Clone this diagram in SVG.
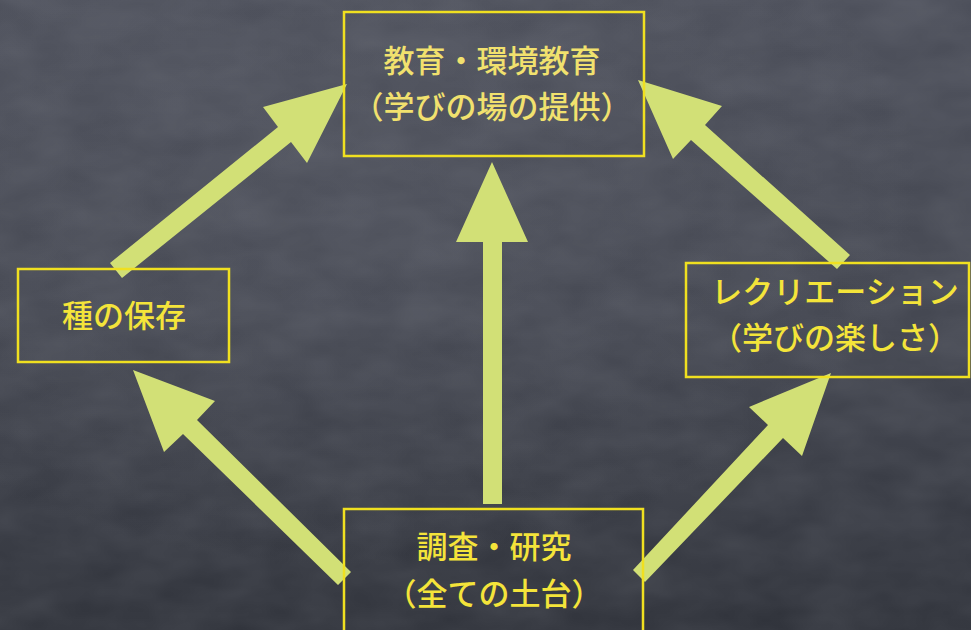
<svg xmlns="http://www.w3.org/2000/svg" width="971" height="630" viewBox="0 0 971 630">
  <defs>
    <linearGradient id="bg" x1="0" y1="0" x2="0" y2="1">
      <stop offset="0" stop-color="#4c4f5a"/>
      <stop offset="0.5" stop-color="#444751"/>
      <stop offset="1" stop-color="#30333b"/>
    </linearGradient>
    <radialGradient id="glow" cx="0.35" cy="0.3" r="0.6">
      <stop offset="0" stop-color="#5a5d68" stop-opacity="0.35"/>
      <stop offset="1" stop-color="#5a5d68" stop-opacity="0"/>
    </radialGradient>
    <filter id="chalk" x="0" y="0" width="100%" height="100%">
      <feTurbulence type="fractalNoise" baseFrequency="0.015 0.03" numOctaves="3" seed="7" result="n"/>
      <feColorMatrix in="n" type="matrix" values="0 0 0 0 0.55  0 0 0 0 0.57  0 0 0 0 0.62  0 0 0 0.14 -0.02"/>
    </filter>
  </defs>
  <style>
    .box { fill: none; stroke: #f0e020; stroke-width: 2.5; }
    .lbl { font-family: "Noto Sans CJK JP", "Noto Sans", "Liberation Sans", sans-serif; font-size: 31px; font-weight: 500; text-anchor: middle; fill: #f4e43a; }
    .pale { fill: #f1e16e; }
    .arrow { fill: #d2e076; }
  </style>
  <rect x="0" y="0" width="971" height="630" fill="url(#bg)"/>
  <rect x="0" y="0" width="971" height="630" fill="url(#glow)"/>
  <rect x="0" y="0" width="971" height="630" filter="url(#chalk)"/>

  <g id="connectors">
    <polygon class="arrow" points="110,263 278,127 263,107 347,84 307,163 291,142 122,278"/>
    <polygon class="arrow" points="638,80 722,106 705,125 850,255 837,269 691,140 673,159"/>
    <polygon class="arrow" points="133,370 215,401 197,420 351,572 338,585 183,434 164,452"/>
    <polygon class="arrow" points="831,373 749,407 768,425 633,570 645,582 783,438 802,456"/>
    <polygon class="arrow" points="492,162 528,242 502,242 502,504 483,504 483,242 456,242"/>
  </g>

  <g id="node-education">
    <rect class="box" x="344" y="12" width="300" height="144"/>
    <text class="lbl pale" x="492" y="72">教育・環境教育</text>
    <text class="lbl pale" x="492" y="118">（学びの場の提供）</text>
  </g>

  <g id="node-conservation">
    <rect class="box" x="18" y="269" width="211" height="93"/>
    <text class="lbl" x="124" y="327">種の保存</text>
  </g>

  <g id="node-recreation">
    <rect class="box" x="686" y="263" width="283" height="114"/>
    <text class="lbl" x="835" y="303">レクリエーション</text>
    <text class="lbl" x="835" y="349">（学びの楽しさ）</text>
  </g>

  <g id="node-research">
    <rect class="box" x="344" y="509" width="299" height="130"/>
    <text class="lbl" x="494" y="558">調査・研究</text>
    <text class="lbl" x="494" y="605">（全ての土台）</text>
  </g>
</svg>
